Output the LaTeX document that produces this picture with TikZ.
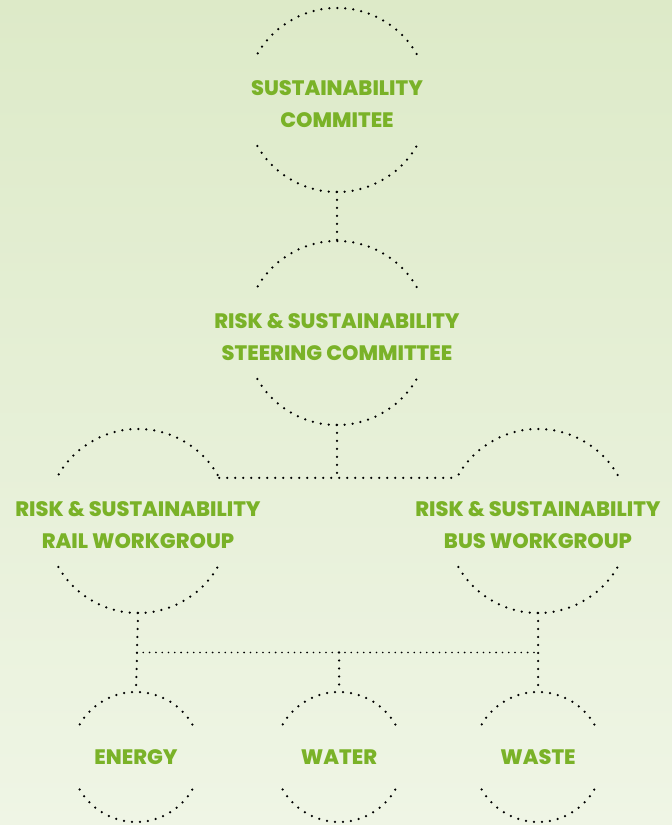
\documentclass[tikz,border=0pt]{standalone}
\usepackage{fontspec}
\setmainfont{Poppins}[BoldFont={Poppins ExtraBold}]
\usetikzlibrary{calc}
\definecolor{leaf}{RGB}{122,178,40}
\definecolor{bgtop}{RGB}{221,234,200}
\definecolor{bgbot}{RGB}{239,245,229}
\begin{document}
\begin{tikzpicture}[x=1pt,y=1pt,
      ring/.style={circle,minimum size=184pt,inner sep=0pt,outer sep=0pt},
      smallring/.style={ring,minimum size=130pt},
      caption/.style={align=center,text=leaf,inner sep=0pt,
        font=\bfseries\fontsize{20.9}{32}\selectfont},
      dots/.style={line width=2.5pt,line cap=round,dash pattern=on 0pt off 8pt},
      finedots/.style={line width=1.8pt,line cap=round,dash pattern=on 0pt off 6.3pt}]
      \useasboundingbox (0,0) rectangle (672,825);
      \shade[top color=bgtop,bottom color=bgbot] (0,0) rectangle (672,825);
      \node[ring] (board) at (337,725) {};
      \node[ring] (steer) at (337,492) {};
      \node[ring] (rail) at (138,304) {};
      \node[ring] (bus) at (538,304) {};
      \node[smallring] (energy) at (136,68) {};
      \node[smallring] (water) at (339,68) {};
      \node[smallring] (waste) at (538,68) {};
      \node[caption,yshift=-4pt] (board-t) at (board) {SUSTAINABILITY\\COMMITEE};
      \node[caption,yshift=-4pt] (steer-t) at (steer) {RISK \& SUSTAINABILITY\\STEERING COMMITTEE};
      \node[caption,yshift=-4pt] (rail-t) at (rail) {RISK \& SUSTAINABILITY\\RAIL WORKGROUP};
      \node[caption,yshift=-4pt] (bus-t) at (bus) {RISK \& SUSTAINABILITY\\BUS WORKGROUP};
      \node[caption] (energy-t) at (energy) {ENERGY};
      \node[caption] (water-t) at (water) {WATER};
      \node[caption] (waste-t) at (waste) {WASTE};
      \foreach \n/\r in {board/92,steer/92,rail/92,bus/92,energy/65,water/65,waste/65} {
        \draw[dots] (\n.30) arc[start angle=30,end angle=150,radius=\r pt];
        \draw[dots] (\n.210) arc[start angle=210,end angle=330,radius=\r pt];
      }
      \coordinate (upper) at (steer.south |- rail.28);
      \coordinate (lower) at ($(rail.south)!0.5!(energy.north)$);
      \draw[dots] (board.south) -- (steer.north);
      \draw[dots] (steer.south) -- (upper);
      \draw[dots] (rail.28) -- (bus.152);
      \draw[dots] (rail.south) -- (energy.north);
      \draw[dots] (bus.south) -- (waste.north);
      \draw[finedots] (lower) -- (lower -| bus.south);
      \draw[dots] (lower -| water.north) -- (water.north);
\end{tikzpicture}
\end{document}
